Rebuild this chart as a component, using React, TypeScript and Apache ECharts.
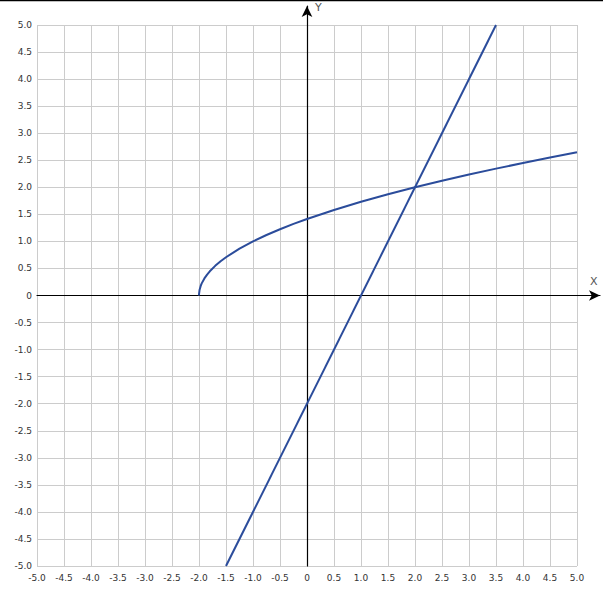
import { useEffect, useRef } from 'react';
import * as echarts from 'echarts';

// y = 2x - 2, read at its two ends on the plot edges
const lineX = [-1.5, 3.5];
const lineY = [-5, 5];

// upper curve
const curveX = [
  -2, -1.999, -1.99, -1.97, -1.95, -1.9, -1.85, -1.8, -1.7, -1.6, -1.5, -1.25,
  -1, -0.75, -0.5, -0.25, 0, 0.5, 1, 1.5, 2, 2.5, 3, 3.5, 4, 4.5, 5,
];
const curveY = [
  0, 0.032, 0.1, 0.173, 0.224, 0.316, 0.387, 0.447, 0.548, 0.632, 0.707, 0.866,
  1, 1.118, 1.225, 1.323, 1.414, 1.581, 1.732, 1.871, 2, 2.121, 2.236, 2.345,
  2.449, 2.55, 2.646,
];

const axisMin = -5;
const axisMax = 5;
const tickStep = 0.5;

const LINE_COLOR = '#2b4c9b';

const fmt = (v: number) => (Math.abs(v) < 1e-9 ? '0' : v.toFixed(1));

export default function App() {
  const ref = useRef<HTMLDivElement>(null);

  useEffect(() => {
    if (!ref.current) return;
    const chart = echarts.init(ref.current, undefined, { renderer: 'svg' });

    const labelStyle = {
      color: '#333',
      fontFamily: 'DejaVu Sans',
      fontSize: 9,
    };

    chart.setOption({
      animation: false,
      backgroundColor: '#fff',
      grid: [
        { left: 37, right: 26, top: 25, bottom: 37 },
        // wider grid only for the arrowed axes through zero
        { left: 37, right: 3, top: 6, bottom: 37 },
      ],
      xAxis: [
        {
          type: 'value',
          gridIndex: 0,
          min: axisMin,
          max: axisMax,
          interval: tickStep,
          position: 'bottom',
          axisLine: { show: false, onZero: false },
          axisTick: { show: false },
          axisLabel: { ...labelStyle, margin: 7, formatter: fmt },
          splitLine: { lineStyle: { color: '#cccccc', width: 1 } },
        },
        {
          type: 'value',
          gridIndex: 1,
          min: axisMin,
          max: 5.426,
          axisLine: {
            onZero: true,
            symbol: ['none', 'arrow'],
            symbolSize: [8, 11],
            lineStyle: { color: '#000', width: 1.2 },
          },
          axisTick: { show: false },
          axisLabel: { show: false },
          splitLine: { show: false },
        },
      ],
      yAxis: [
        {
          type: 'value',
          gridIndex: 0,
          min: axisMin,
          max: axisMax,
          interval: tickStep,
          position: 'left',
          axisLine: { show: false, onZero: false },
          axisTick: { show: false },
          axisLabel: { ...labelStyle, margin: 5, formatter: fmt },
          splitLine: { lineStyle: { color: '#cccccc', width: 1 } },
        },
        {
          type: 'value',
          gridIndex: 1,
          min: axisMin,
          max: 5.351,
          axisLine: {
            onZero: true,
            symbol: ['none', 'arrow'],
            symbolSize: [8, 11],
            lineStyle: { color: '#000', width: 1.2 },
          },
          axisTick: { show: false },
          axisLabel: { show: false },
          splitLine: { show: false },
        },
      ],
      graphic: [
        {
          type: 'line',
          shape: { x1: 0, y1: 0.5, x2: 603, y2: 0.5 },
          style: { stroke: '#000', lineWidth: 1.5 },
        },
        {
          type: 'text',
          left: 315,
          top: 2,
          style: { text: 'Y', fill: '#555', font: '11px DejaVu Sans' },
        },
        {
          type: 'text',
          left: 590,
          top: 276,
          style: { text: 'X', fill: '#555', font: '11px DejaVu Sans' },
        },
      ],
      series: [
        {
          type: 'line',
          xAxisIndex: 0,
          yAxisIndex: 0,
          data: lineX.map((x, i) => [x, lineY[i]]),
          showSymbol: false,
          lineStyle: { color: LINE_COLOR, width: 2 },
          z: 5,
        },
        {
          type: 'line',
          xAxisIndex: 0,
          yAxisIndex: 0,
          data: curveX.map((x, i) => [x, curveY[i]]),
          showSymbol: false,
          lineStyle: { color: LINE_COLOR, width: 2 },
          z: 5,
        },
      ],
    });

    return () => {
      chart.dispose();
    };
  }, []);

  return (
    <div
      ref={ref}
      style={{ position: 'fixed', left: 0, top: 0, width: 603, height: 603 }}
    />
  );
}
